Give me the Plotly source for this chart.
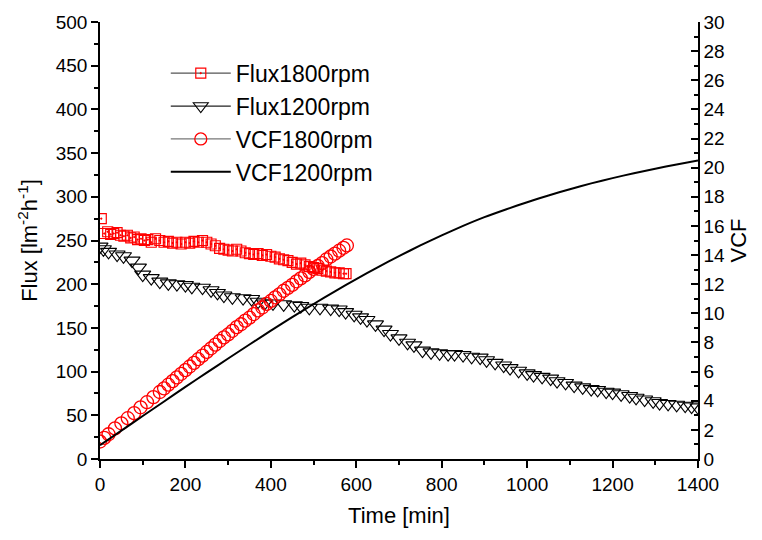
import plotly.graph_objects as go

# ---------------- data ----------------
flux1800_t = [3, 10, 18, 25, 32, 40, 48, 56, 64, 72, 80, 88, 96, 104, 112, 120, 130, 140, 150, 160,
              170, 180, 190, 200, 210, 220, 230, 240, 250, 260, 270, 280, 290, 300, 310, 320, 330, 340,
              350, 360, 370, 380, 390, 400, 410, 420, 430, 440, 450, 460, 470, 480, 490, 500, 510, 520,
              530, 540, 550, 560, 570, 576]
flux1800 = [275, 258, 260, 257, 258, 259, 256, 255, 256, 253, 254, 251, 252, 250, 251, 248, 252, 250, 248, 249,
            247, 248, 246, 248, 247, 249, 248, 250, 248, 246, 244, 241, 240, 239, 238, 240, 238, 236,
            235, 234, 235, 233, 234, 232, 231, 229, 228, 227, 225, 223, 224, 222, 220, 219, 218, 216,
            215, 214, 213, 213, 212, 212]

flux1200_t = [0, 8, 20, 40, 55, 75, 90, 100, 120, 140, 160, 180, 200, 215, 240, 260, 275, 290, 310, 335,
              355, 370, 385, 405, 430, 455, 470, 490, 515, 540, 560, 575, 595, 610, 625, 645, 665, 680,
              700, 720, 735, 755, 775, 795, 815, 830, 850, 870, 890, 905, 925, 945, 960, 980, 1000, 1015,
              1035, 1055, 1070, 1090, 1110, 1130, 1150, 1165, 1185, 1200, 1220, 1240, 1255, 1275, 1295,
              1310, 1330, 1350, 1370, 1385, 1400]
flux1200 = [243, 240, 237, 234, 232, 227, 219, 211, 207, 203, 201, 200, 199, 197, 196, 193, 190, 187, 185, 184,
            183, 180, 178, 178, 177, 176, 175, 173, 173, 172, 171, 168, 165, 162, 159, 154, 148, 143,
            138, 133, 130, 124, 122, 121, 120, 120, 119, 117, 116, 113, 110, 107, 104, 101, 98, 96,
            94, 92, 89, 87, 84, 82, 80, 79, 77, 76, 74, 72, 70, 68, 66,
            64, 63, 62, 61, 60, 59]

vcf1800_t = [0, 10, 20, 35, 50, 65, 80, 95, 110, 125, 140, 150, 160, 170, 180, 190,
             200, 210, 220, 230, 240, 250, 260, 270, 280, 290, 300, 310, 320, 330, 340, 350, 360, 370,
             380, 390, 400, 410, 420, 430, 440, 450, 460, 470, 480, 490, 500, 510, 520, 530, 540, 550,
             560, 570, 578]
vcf1800 = [1.2, 1.45, 1.7, 2.1, 2.45, 2.8, 3.15, 3.55, 3.9, 4.25, 4.6, 4.85, 5.1, 5.35,
           5.6, 5.85, 6.1, 6.35, 6.6, 6.85, 7.1, 7.35, 7.6, 7.85, 8.1, 8.35, 8.55, 8.8, 9.05, 9.25, 9.5,
           9.7, 9.95, 10.2, 10.4, 10.65, 10.85, 11.1, 11.3, 11.55, 11.75, 11.95, 12.2, 12.4, 12.6, 12.85,
           13.05, 13.25, 13.45, 13.7, 13.9, 14.1, 14.3, 14.5, 14.66]

vcf1200_t = [0, 50, 100, 150, 200, 250, 300, 350, 400, 450, 500, 550, 600, 650, 700, 750, 800, 850, 900,
             950, 1000, 1050, 1100, 1150, 1200, 1250, 1300, 1350, 1400]
vcf1200 = [0.95, 1.95, 2.95, 3.95, 4.95, 5.93, 6.9, 7.86, 8.81, 9.74, 10.64, 11.51, 12.35, 13.16, 13.93,
           14.66, 15.35, 16.0, 16.6, 17.13, 17.63, 18.09, 18.52, 18.92, 19.28, 19.62, 19.93, 20.22, 20.49]

names = ["Flux1800rpm", "Flux1200rpm", "VCF1800rpm", "VCF1200rpm"]

FONT = "Arial, Liberation Sans, sans-serif"
RED = "#ff0000"

fig = go.Figure()

# data traces
fig.add_trace(go.Scatter(x=flux1800_t, y=flux1800, mode="markers", showlegend=False,
                         marker=dict(symbol="square-open-dot", size=10, color=RED, line=dict(width=1.2, color=RED))))
fig.add_trace(go.Scatter(x=flux1200_t, y=flux1200, mode="markers", showlegend=False,
                         marker=dict(symbol="triangle-down-open", size=14, color="black", line=dict(width=1.1, color="black"))))
fig.add_trace(go.Scatter(x=vcf1800_t, y=vcf1800, mode="markers", showlegend=False, yaxis="y2",
                         marker=dict(symbol="circle-open", size=13, color=RED, line=dict(width=1.3, color=RED))))
fig.add_trace(go.Scatter(x=vcf1200_t, y=vcf1200, mode="lines", showlegend=False, yaxis="y2",
                         line=dict(color="black", width=2, shape="spline", smoothing=0.6)))

# legend entries
fig.add_trace(go.Scatter(x=[None], y=[None], mode="lines+markers", name=names[0],
                         line=dict(color="#555555", width=1.2),
                         marker=dict(symbol="square-open-dot", size=10, color=RED, line=dict(width=1.2, color=RED))))
fig.add_trace(go.Scatter(x=[None], y=[None], mode="lines+markers", name=names[1],
                         line=dict(color="#222222", width=1.2),
                         marker=dict(symbol="triangle-down-open", size=13, color="black", line=dict(width=1.1, color="black"))))
fig.add_trace(go.Scatter(x=[None], y=[None], mode="lines+markers", name=names[2],
                         line=dict(color="#777777", width=1.2),
                         marker=dict(symbol="circle-open", size=12, color=RED, line=dict(width=1.3, color=RED))))
fig.add_trace(go.Scatter(x=[None], y=[None], mode="lines", name=names[3],
                         line=dict(color="black", width=2)))

fig.update_layout(
    width=762, height=540,
    margin=dict(l=100, r=64, t=15, b=81),
    paper_bgcolor="white", plot_bgcolor="white",
    font=dict(family=FONT, color="black", size=19),
    showlegend=True,
    legend=dict(x=0.11, y=0.932, xanchor="left", yanchor="top", bgcolor="rgba(0,0,0,0)",
                font=dict(size=23, family=FONT), itemwidth=60, tracegroupgap=0),
    xaxis=dict(range=[0, 1400], dtick=200, tick0=0, showgrid=False, zeroline=False,
               showline=True, linecolor="black", linewidth=1.5,
               ticks="outside", ticklen=7, tickwidth=1.5, tickcolor="black",
               minor=dict(dtick=100, ticks="outside", ticklen=4, tickwidth=1.5, tickcolor="black"),
               title=dict(text="Time [min]", font=dict(size=22), standoff=14),
               tickfont=dict(size=19)),
    yaxis=dict(range=[0, 500], dtick=50, tick0=0, showgrid=False, zeroline=False,
               showline=True, linecolor="black", linewidth=1.5,
               ticks="outside", ticklen=7, tickwidth=1.5, tickcolor="black",
               minor=dict(dtick=25, ticks="outside", ticklen=4, tickwidth=1.5, tickcolor="black"),
               title=dict(text="Flux [lm<sup>-2</sup>h<sup>-1</sup>]", font=dict(size=22), standoff=12),
               tickfont=dict(size=19)),
    yaxis2=dict(range=[0, 30], dtick=2, tick0=0, overlaying="y", side="right", showgrid=False, zeroline=False,
                showline=True, linecolor="black", linewidth=1.5,
                ticks="inside", ticklen=7, tickwidth=1.5, tickcolor="black",
                minor=dict(dtick=1, ticks="inside", ticklen=4, tickwidth=1.5, tickcolor="black"),
                title=dict(text="VCF", font=dict(size=22), standoff=6),
                tickfont=dict(size=19)),
)

fig.write_html("out.html")
